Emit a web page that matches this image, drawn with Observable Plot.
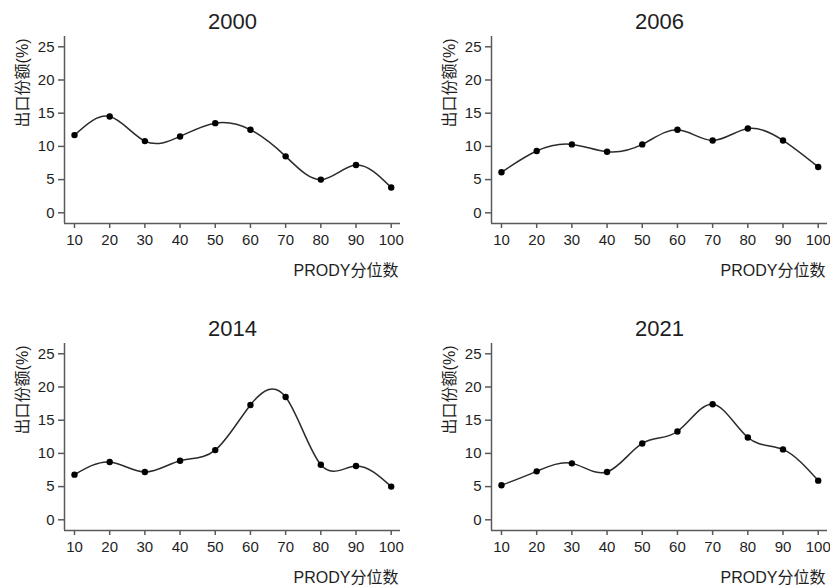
<!DOCTYPE html>
<html>
<head>
<meta charset="utf-8">
<script src="https://cdn.jsdelivr.net/npm/d3@7"></script>
<script src="https://cdn.jsdelivr.net/npm/@observablehq/plot@0.6"></script>
<style>
  html, body { margin: 0; padding: 0; background: #fff; }
  #wrap { position: relative; width: 830px; height: 588px; overflow: hidden; background: #fff; }
  .panel { position: absolute; width: 427px; height: 307px; }
  .panel svg { overflow: visible; }
</style>
</head>
<body>
<div id="wrap"></div>
<script>
const pct = [10, 20, 30, 40, 50, 60, 70, 80, 90, 100];
const years = ["2000", "2006", "2014", "2021"];
const v2000 = [11.7, 14.5, 10.8, 11.5, 13.5, 12.5, 8.5, 5.0, 7.2, 3.8];
const v2006 = [6.1, 9.3, 10.3, 9.2, 10.3, 12.5, 10.9, 12.7, 10.9, 6.9];
const v2014 = [6.8, 8.7, 7.2, 8.9, 10.5, 17.3, 18.5, 8.3, 8.1, 5.0];
const v2021 = [5.2, 7.3, 8.5, 7.2, 11.5, 13.3, 17.4, 12.4, 10.6, 5.9];
const xTicks = pct;
const yTicks = [0, 5, 10, 15, 20, 25];
const yLabel = "出口份额(%)";
const xLabel = "PRODY分位数";

const series = [v2000, v2006, v2014, v2021];
const offsets = [[0, 0], [427, 0], [0, 307], [427, 307]];
const xDom = [7.16, 102.64];
const yDom = [-1.61, 26.55];
const font = "'Liberation Sans', Arial, 'Noto Sans CJK SC', sans-serif";
const axisCol = "#5a5a5a";
const textCol = "#1e1e1e";

const wrap = document.getElementById("wrap");
series.forEach((vals, i) => {
  const data = pct.map((p, j) => ({p, v: vals[j]}));
  const chart = Plot.plot({
    width: 427,
    height: 307,
    marginLeft: 64,
    marginRight: 27,
    marginTop: 36,
    marginBottom: 84,
    style: {fontFamily: font, fontSize: "15px", color: textCol, background: "transparent"},
    x: {domain: xDom},
    y: {domain: yDom},
    marks: [
      Plot.axisX({ticks: xTicks, tickSize: 5, tickPadding: 6, fontSize: 15, label: null, stroke: axisCol, strokeWidth: 1.5, fill: textCol}),
      Plot.axisY({ticks: yTicks, tickSize: 6, tickPadding: 4, fontSize: 15, label: null, stroke: axisCol, strokeWidth: 1.5, fill: textCol}),
      Plot.ruleX([xDom[0]], {stroke: axisCol, strokeWidth: 1.5}),
      Plot.ruleY([yDom[0]], {stroke: axisCol, strokeWidth: 1.5}),
      Plot.line(data, {x: "p", y: "v", curve: "natural", stroke: "#2b2b2b", strokeWidth: 1.5}),
      Plot.dot(data, {x: "p", y: "v", r: 3.2, fill: "#000", stroke: "none"}),
      Plot.text([years[i]], {frameAnchor: "top", lineAnchor: "middle", dy: -14.5, fontSize: 22, fill: textCol, text: d => d}),
      Plot.text([xLabel], {frameAnchor: "bottom-right", textAnchor: "end", lineAnchor: "middle", dy: 47, dx: -2, fontSize: 16, fill: textCol, text: d => d}),
      Plot.text([yLabel], {frameAnchor: "top-left", textAnchor: "end", lineAnchor: "middle", rotate: -90, dx: -42, dy: 2, fontSize: 16, fill: textCol, text: d => d})
    ]
  });
  const div = document.createElement("div");
  div.className = "panel";
  div.style.left = offsets[i][0] + "px";
  div.style.top = offsets[i][1] + "px";
  div.appendChild(chart);
  wrap.appendChild(div);
});
</script>
</body>
</html>
